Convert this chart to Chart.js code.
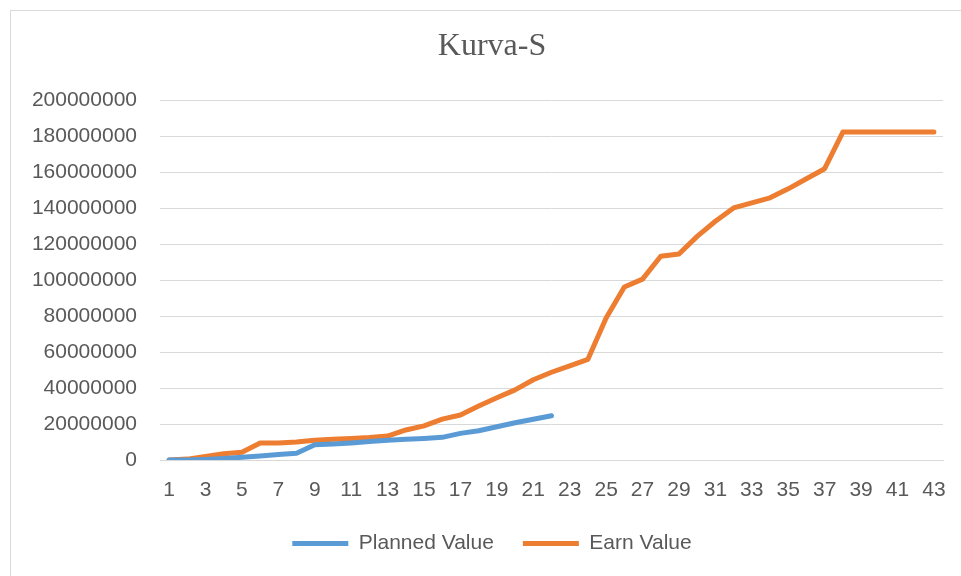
<!DOCTYPE html>
<html>
<head>
<meta charset="utf-8">
<script src="https://cdn.jsdelivr.net/npm/chart.js@4"></script>
<style>
  html, body { margin: 0; padding: 0; background: #fff; overflow: hidden; }
  #box {
    position: absolute; left: 10px; top: 10px;
    width: 965px; height: 590px;
    border-left: 1px solid #d9d9d9; border-top: 1px solid #d9d9d9;
  }
  #wrap { position: absolute; left: 0; top: 0; width: 965px; height: 553px; }
</style>
</head>
<body>
<div id="box"><div id="wrap"><canvas id="kurva"></canvas></div></div>
<script>
// minggu ke-
const weeks = ['1','2','3','4','5','6','7','8','9','10','11','12','13','14','15','16','17','18','19','20','21','22',
  '23','24','25','26','27','28','29','30','31','32','33','34','35','36','37','38','39','40','41','42','43'];

// Planned Value (sampai minggu 22)
const plannedValue = [0, 0, 300000, 800000, 1500000, 2200000, 3000000, 3800000, 8500000, 8900000,
  9500000, 10300000, 11000000, 11500000, 12000000, 12600000, 14800000, 16300000, 18500000, 20700000,
  22700000, 24600000];

// Earn Value
const earnValue = [0, 500000, 2000000, 3500000, 4300000, 9500000, 9500000, 10000000, 11000000, 11500000,
  12000000, 12500000, 13300000, 16700000, 19000000, 22700000, 25000000, 30000000, 34600000, 39000000,
  44600000, 48800000, 52400000, 56000000, 79000000, 96200000, 100600000, 113300000, 114600000, 124400000,
  132800000, 140200000, 143000000, 145800000, 150800000, 156400000, 162000000, 182400000, 182400000, 182400000,
  182400000, 182400000, 182400000];

const yTicks = [0, 20000000, 40000000, 60000000, 80000000, 100000000, 120000000, 140000000, 160000000, 180000000, 200000000];

const gray = '#595959';
const gridColor = '#d9d9d9';
const sans = "'Liberation Sans', Arial, sans-serif";

new Chart(document.getElementById('kurva'), {
  type: 'line',
  data: {
    labels: weeks,
    datasets: [
      {
        label: 'Planned Value',
        data: plannedValue,
        borderColor: '#5b9bd5',
        backgroundColor: '#5b9bd5',
        borderWidth: 5,
        borderCapStyle: 'round',
        borderJoinStyle: 'round',
        pointRadius: 0,
        pointStyle: 'line',
        tension: 0
      },
      {
        label: 'Earn Value',
        data: earnValue,
        borderColor: '#ed7d31',
        backgroundColor: '#ed7d31',
        borderWidth: 5,
        borderCapStyle: 'round',
        borderJoinStyle: 'round',
        pointRadius: 0,
        pointStyle: 'line',
        tension: 0
      }
    ]
  },
  options: {
    responsive: true,
    maintainAspectRatio: false,
    animation: false,
    layout: { padding: { left: 0, right: 3, top: 0, bottom: 0 } },
    plugins: {
      title: {
        display: true,
        text: 'Kurva-S',
        color: gray,
        font: { family: "'Liberation Serif', 'Times New Roman', serif", size: 32, weight: 'normal' },
        padding: { top: 16, bottom: 35 }
      },
      legend: {
        display: true,
        position: 'bottom',
        labels: {
          color: gray,
          font: { family: sans, size: 21 },
          usePointStyle: true,
          pointStyle: 'line',
          pointStyleWidth: 56,
          boxHeight: 21,
          padding: 29
        }
      },
      tooltip: { enabled: false }
    },
    scales: {
      x: {
        offset: true,
        grid: { display: false, drawTicks: false },
        border: { display: true, color: gridColor, width: 1 },
        ticks: {
          color: gray,
          font: { family: sans, size: 21 },
          padding: 18,
          autoSkip: false,
          maxRotation: 0,
          callback: function (v, i) { return i % 2 === 0 ? weeks[i] : ''; }
        },
        afterFit: function (scale) { scale.height = 44; }
      },
      y: {
        min: yTicks[0],
        max: yTicks[yTicks.length - 1],
        grid: { color: gridColor, lineWidth: 1, drawTicks: false },
        border: { display: false },
        ticks: {
          stepSize: yTicks[1] - yTicks[0],
          color: gray,
          font: { family: sans, size: 21 },
          padding: 23,
          callback: function (v) { return String(v); }
        },
        afterFit: function (scale) { scale.width = 149; }
      },
      // ruang kosong di kanan plot
      yRight: {
        position: 'right',
        min: yTicks[0],
        max: yTicks[yTicks.length - 1],
        grid: { display: false, drawTicks: false },
        border: { display: false },
        ticks: { display: false },
        afterFit: function (scale) { scale.width = 30; }
      }
    }
  }
});
</script>
</body>
</html>
